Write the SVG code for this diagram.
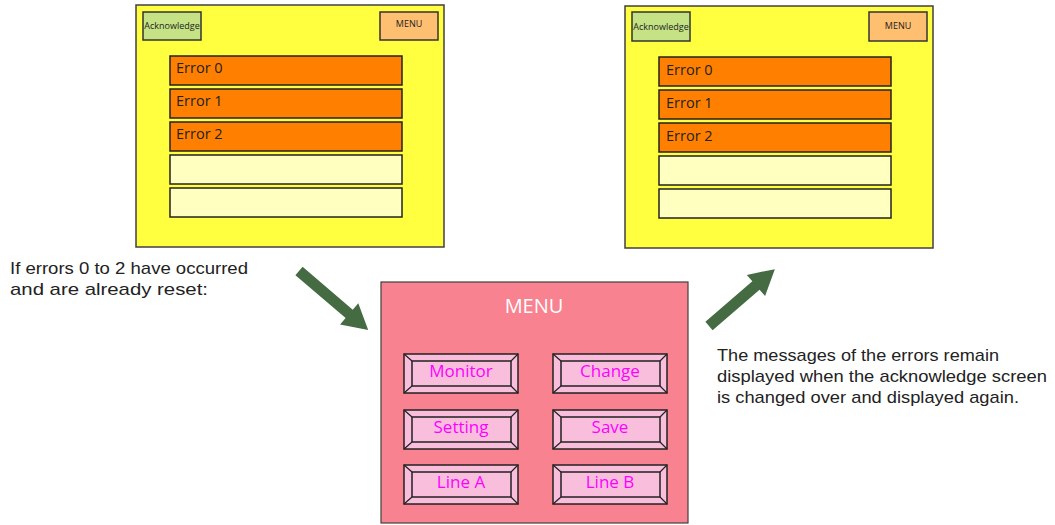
<svg xmlns="http://www.w3.org/2000/svg" width="1055" height="525" viewBox="0 0 1055 525">
<defs>
<style>
text{font-family:"Open Sans","Noto Sans","Liberation Sans",sans-serif;}
.screen{fill:#FFFF40;stroke:#404040;stroke-width:1.5;}
.ack{fill:#C5E384;stroke:#333;stroke-width:1.5;}
.mbtn{fill:#FFBF70;stroke:#333;stroke-width:1.5;}
.err{fill:#FF8000;stroke:#222;stroke-width:1.5;}
.empty{fill:#FFFFC0;stroke:#222;stroke-width:1.5;}
.small{font-size:9px;fill:#222;}
.etxt{font-size:14.5px;fill:#222;}
.menu{fill:#F8828F;stroke:#404040;stroke-width:1.2;}
.btn{fill:#F9BEDC;stroke:#222;stroke-width:1.5;}
.bev{stroke:#222;stroke-width:1.2;fill:none;}
.btxt{font-size:17px;fill:#FF00FF;text-anchor:middle;}
.note{font-family:"Liberation Sans",Arial,sans-serif;font-size:17px;fill:#222;}
.arrow{fill:#456B42;}
</style>
<g id="bevbtn">
<rect class="btn" x="0" y="0" width="114" height="39"/>
<rect class="btn" x="8" y="7" width="99" height="25"/>
<path class="bev" d="M0,0L8,7M114,0L107,7M0,39L8,32M114,39L107,32"/>
</g>
</defs>

<g id="screen-left">
<rect class="screen" x="136" y="5" width="308" height="242"/>
<rect class="ack" x="143" y="12" width="58" height="28"/>
<text class="small" x="172" y="29" text-anchor="middle">Acknowledge</text>
<rect class="mbtn" x="380" y="12" width="58" height="28"/>
<text class="small" x="409" y="27" text-anchor="middle">MENU</text>
<rect class="err" x="170" y="56" width="232" height="29"/>
<text class="etxt" x="176" y="73">Error 0</text>
<rect class="err" x="170" y="89" width="232" height="29"/>
<text class="etxt" x="176" y="106">Error 1</text>
<rect class="err" x="170" y="122" width="232" height="29"/>
<text class="etxt" x="176" y="139">Error 2</text>
<rect class="empty" x="170" y="155" width="232" height="29"/>
<rect class="empty" x="170" y="188" width="232" height="29"/>
</g>

<g id="screen-right">
<rect class="screen" x="625" y="6" width="308" height="242"/>
<rect class="ack" x="632" y="12" width="58" height="29"/>
<text class="small" x="661" y="30" text-anchor="middle">Acknowledge</text>
<rect class="mbtn" x="869" y="12" width="58" height="29"/>
<text class="small" x="898" y="29" text-anchor="middle">MENU</text>
<rect class="err" x="659" y="57" width="232" height="29"/>
<text class="etxt" x="666" y="75">Error 0</text>
<rect class="err" x="659" y="90" width="232" height="29"/>
<text class="etxt" x="666" y="108">Error 1</text>
<rect class="err" x="659" y="123" width="232" height="29"/>
<text class="etxt" x="666" y="141">Error 2</text>
<rect class="empty" x="659" y="156" width="232" height="29"/>
<rect class="empty" x="659" y="189" width="232" height="29"/>
</g>

<g id="menu-screen">
<rect class="menu" x="381" y="282" width="307" height="241"/>
<text x="534" y="313" font-size="20" fill="#FFFFFF" text-anchor="middle">MENU</text>
<use href="#bevbtn" x="404" y="354"/>
<text class="btxt" x="461" y="377">Monitor</text>
<use href="#bevbtn" x="553" y="354"/>
<text class="btxt" x="610" y="377">Change</text>
<use href="#bevbtn" x="404" y="410"/>
<text class="btxt" x="461" y="433">Setting</text>
<use href="#bevbtn" x="553" y="410"/>
<text class="btxt" x="610" y="433">Save</text>
<use href="#bevbtn" x="404" y="465"/>
<text class="btxt" x="461" y="488">Line A</text>
<use href="#bevbtn" x="553" y="465"/>
<text class="btxt" x="610" y="488">Line B</text>
</g>

<g id="connectors">
<polygon class="arrow" transform="translate(299,271) rotate(40.5)" points="0,-5.5 66,-5.5 66,-14 91,0 66,14 66,5.5 0,5.5"/>
<polygon class="arrow" transform="translate(709,326) rotate(-40.8)" points="0,-5.5 62,-5.5 62,-14 87,0 62,14 62,5.5 0,5.5"/>
</g>

<g id="notes">
<text class="note" x="10" y="274" textLength="238" lengthAdjust="spacingAndGlyphs">If errors 0 to 2 have occurred</text>
<text class="note" x="10" y="295" textLength="198" lengthAdjust="spacingAndGlyphs">and are already reset:</text>
<text class="note" x="717" y="361" textLength="282" lengthAdjust="spacingAndGlyphs">The messages of the errors remain</text>
<text class="note" x="717" y="382" textLength="330" lengthAdjust="spacingAndGlyphs">displayed when the acknowledge screen</text>
<text class="note" x="717" y="403" textLength="302" lengthAdjust="spacingAndGlyphs">is changed over and displayed again.</text>
</g>
</svg>
